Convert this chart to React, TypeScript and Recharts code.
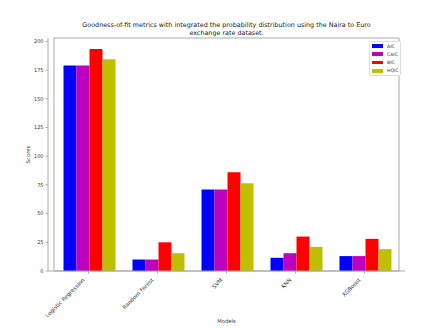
import React from "react";
import { Bar, BarChart, ReferenceArea, XAxis, YAxis } from "recharts";

const models = ["Logistic Regression", "Random Forest", "SVM", "KNN", "XGBoost"];
const aic = [179, 10, 71, 11.5, 13];
const caic = [179, 10, 71, 15.5, 13];
const bic = [193.5, 25, 86, 30, 28];
const hqic = [184.5, 15.5, 76.5, 21, 19];
const yTicks = [0, 25, 50, 75, 100, 125, 150, 175, 200];

const series = [
  { key: "AIC", color: "#0000ff" },
  { key: "CAIC", color: "#bf00bf" },
  { key: "BIC", color: "#ff0000" },
  { key: "HQIC", color: "#bfbf00" },
];

const rows = models.map((model, i) => ({
  model,
  AIC: aic[i],
  CAIC: caic[i],
  BIC: bic[i],
  HQIC: hqic[i],
}));

const FONT = "'DejaVu Sans', sans-serif";
const AXIS = "#aaaaaa";

function XTick({ x, y, payload }: any) {
  return (
    <g transform={`translate(${x - 6.5},${y + 2}) rotate(-45)`}>
      <text x={0} y={0} dy="0.75em" textAnchor="end" fontSize={5.5} fill="#333" fontFamily={FONT}>
        {payload.value}
      </text>
    </g>
  );
}

export default function App() {
  return (
    <div style={{ position: "absolute", left: 0, top: 0, width: 437, height: 328, background: "#fff", fontFamily: FONT }}>
      <div
        style={{
          position: "absolute",
          left: 48,
          width: 357,
          top: 20.5,
          textAlign: "center",
          fontSize: 6.4,
          lineHeight: "8.5px",
          color: "#222",
        }}
      >
        Goodness-of-fit metrics with integrated the probability distribution using the Naira to Euro
        <br />
        exchange rate dataset.
      </div>
      <BarChart
        width={437}
        height={328}
        data={rows}
        margin={{ top: 38, right: 32, bottom: 0, left: 0 }}
        barCategoryGap={9.5}
        barGap={0}
      >
        <XAxis
          dataKey="model"
          height={57}
          padding={{ left: 6, right: 6 }}
          stroke={AXIS}
          tickSize={2.5}
          tick={<XTick />}
          interval={0}
          label={{ value: "Models", position: "insideBottom", offset: 5, fontSize: 5.3, fill: "#333", fontFamily: FONT }}
        />
        <YAxis
          width={48}
          domain={[0, 203]}
          ticks={yTicks}
          stroke={AXIS}
          tickSize={2.5}
          tickMargin={2}
          tick={{ fontSize: 5, fill: "#333", fontFamily: FONT }}
          label={{ value: "Scores", angle: -90, position: "center", dx: 4, fontSize: 5.3, fill: "#333", fontFamily: FONT }}
        />
        {series.map((s) => (
          <Bar key={s.key} dataKey={s.key} fill={s.color} isAnimationActive={false} />
        ))}
        <ReferenceArea y1={0} y2={203} fill="none" stroke={AXIS} strokeWidth={1} fillOpacity={0} />
      </BarChart>
      <div
        style={{
          position: "absolute",
          left: 369,
          top: 41,
          width: 32,
          border: "1px solid #dddddd",
          borderRadius: 1.5,
          background: "#fff",
          boxSizing: "border-box",
          padding: "0 0 0.5px 2px",
        }}
      >
        {series.map((s) => (
          <div key={s.key} style={{ display: "flex", alignItems: "center", height: 8.2 }}>
            <div style={{ width: 10.5, height: 3.8, background: s.color }} />
            <span style={{ marginLeft: 4.5, fontSize: 4.6, lineHeight: "5px", color: "#333" }}>{s.key}</span>
          </div>
        ))}
      </div>
    </div>
  );
}
